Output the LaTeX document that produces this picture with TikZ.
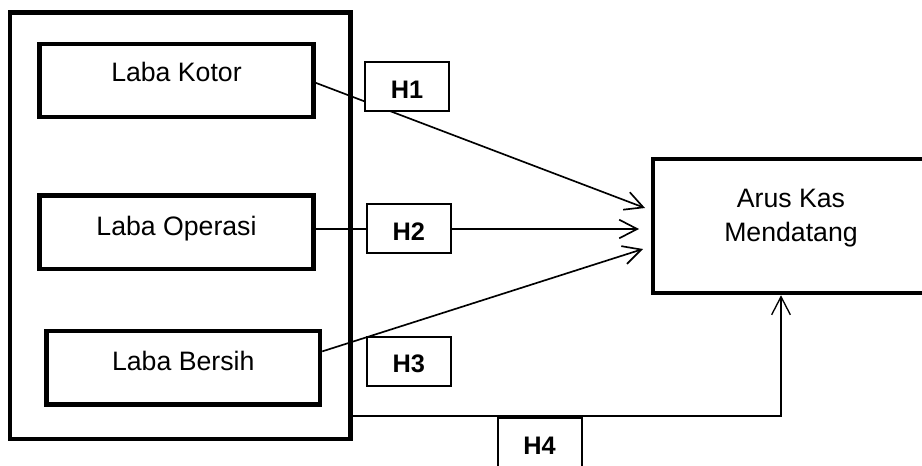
\documentclass[tikz,border=0pt]{standalone}
\usepackage{fontspec}
\setmainfont{Liberation Sans}
\usetikzlibrary{arrows.meta,calc}

\tikzset{
  % 1 unit = 0.75pt, y grows downwards
  x=0.75pt, y=-0.75pt,
  bigbox/.style={draw, line width=3.4pt, inner sep=0pt, line join=miter},
  varbox/.style={bigbox, minimum width=205.5pt, minimum height=55pt,
    font=\fontsize{20}{24}\selectfont, text height=14.3pt},
  hbox/.style={draw, fill=white, line width=1.5pt, inner sep=0pt,
    minimum width=63pt, minimum height=36.75pt,
    font=\fontsize{19}{23}\selectfont\bfseries, text height=17.4pt, text depth=0pt},
  link/.style={line width=1.25pt, -{Straight Barb[length=13.5pt,width=14pt]}},
}

\begin{document}
\begin{tikzpicture}
\useasboundingbox (0,0) rectangle (922,465);
\clip (0,0) rectangle (922,465);

% group of the three profit measures
\node[bigbox, minimum width=255.4pt, minimum height=319.9pt] (group) at (180.25,225.75) {};
\node[varbox, text depth=12.75pt] (kotor) at (176.5,80.5) {Laba Kotor};
\node[varbox, text depth=9pt] (operasi) at (176.5,232.25) {Laba Operasi};
\node[varbox, minimum width=205.1pt, text depth=9.75pt] (bersih) at (183.25,367.75) {Laba Bersih};

% dependent variable
\node[bigbox, minimum width=207pt, minimum height=100.5pt] (arus) at (791,226) {};
\node[align=center, inner sep=0pt, font=\fontsize{20}{25}\selectfont] (arusT) at (791,218) {Arus Kas\\Mendatang};

% arrow tips and bend point
\coordinate (t1) at (645,208);
\coordinate (t2) at (639,229);
\coordinate (t3) at (643,249);
\coordinate (k4) at (781,416);

% hypothesis paths
\draw[link] ($(kotor.north east)!0.53!(kotor.south east)$) -- (t1);
\draw[link] (operasi.east |- t2) -- (t2);
\draw[link] ($(bersih.north east)!0.29!(bersih.south east)$) -- (t3);
\draw[link, line width=1pt] (group.east |- k4) -- (k4) -- (arus.south -| k4);

% hypothesis labels
\node[hbox] (h1) at (407,86.5) {H1};
\node[hbox] (h2) at (408.7,228.7) {H2};
\node[hbox] (h3) at (408.7,361.2) {H3};
\node[hbox] (h4) at (539.5,442.8) {H4};
\end{tikzpicture}
\end{document}
